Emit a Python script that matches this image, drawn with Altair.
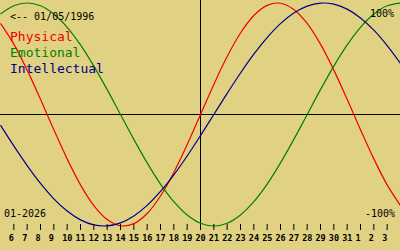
import altair as alt
import pandas as pd

# Days of January 2026 shown (5 .. 35 = Feb 4), values in percent
days = list(range(5, 36))
physical = [81.7, 63.1, 39.8, 13.6, -13.6, -39.8, -63.1, -81.7, -94.2, -99.8,
            -97.9, -88.8, -73.1, -52.0, -27.0, 0.0, 27.0, 52.0, 73.1, 88.8,
            97.9, 99.8, 94.2, 81.7, 63.1, 39.8, 13.6, -13.6, -39.8, -63.1, -81.7]
emotional = [90.1, 97.5, 100.0, 97.5, 90.1, 78.2, 62.4, 43.4, 22.3, 0.0,
             -22.3, -43.4, -62.4, -78.2, -90.1, -97.5, -100.0, -97.5, -90.1, -78.2,
             -62.4, -43.4, -22.3, 0.0, 22.3, 43.4, 62.4, 78.2, 90.1, 97.5, 100.0]
intellectual = [-9.5, -28.2, -45.8, -61.8, -75.6, -86.6, -94.5, -99.0, -99.9, -97.2,
                -91.0, -81.5, -69.0, -54.1, -37.2, -18.9, 0.0, 18.9, 37.2, 54.1,
                69.0, 81.5, 91.0, 97.2, 99.9, 99.0, 94.5, 86.6, 75.6, 61.8, 45.8]

series_names = ["Physical", "Emotional", "Intellectual"]
series_colors = ["#f00000", "#008000", "#000088"]

tick_days = list(range(6, 35))
tick_labels = [str(d) for d in range(6, 32)] + ["1", "2", "3"]
today = [20]

BG = "#e1d283"
FONT = "DejaVu Sans Mono"

rows = []
for name, vals in zip(series_names, [physical, emotional, intellectual]):
    for d, v in zip(days, vals):
        rows.append({"day": d, "value": v, "series": name})
df = pd.DataFrame(rows)
ticks_df = pd.DataFrame({"day": tick_days, "label": tick_labels})
today_df = pd.DataFrame({"day": today})
zero_df = pd.DataFrame({"value": [0]})

xscale = alt.Scale(domain=[5, 35], range=[0.5, 400.5], nice=False, zero=False)
yscale = alt.Scale(domain=[-100, 100], range=[226, 3], nice=False, zero=False)

lines = alt.Chart(df).mark_line(strokeWidth=1.2, interpolate="catmull-rom", clip=True).encode(
    x=alt.X("day:Q", scale=xscale, axis=None),
    y=alt.Y("value:Q", scale=yscale, axis=None),
    color=alt.Color("series:N", scale=alt.Scale(domain=series_names, range=series_colors), legend=None),
    detail="series:N",
)

hline = alt.Chart(zero_df).mark_rule(color="black", strokeWidth=1).encode(
    y=alt.Y("value:Q", scale=yscale, axis=None),
    x=alt.value(0), x2=alt.value(400),
)

vline = alt.Chart(today_df).mark_rule(color="black", strokeWidth=1).encode(
    x=alt.X("day:Q", scale=xscale, axis=None),
    y=alt.value(0), y2=alt.value(230),
)

tick_marks = alt.Chart(ticks_df).mark_rule(color="black", strokeWidth=1).encode(
    x=alt.X("day:Q", scale=xscale, axis=None),
    y=alt.value(224), y2=alt.value(230),
)

tick_text = alt.Chart(ticks_df).mark_text(
    font=FONT, fontSize=8.5, fontWeight="bold", align="left", baseline="alphabetic", dx=-5, color="black"
).encode(
    x=alt.X("day:Q", scale=xscale, axis=None),
    y=alt.value(241),
    text="label:N",
)

def label(txt, x, y, size, color, align="left"):
    return alt.Chart(zero_df).mark_text(
        font=FONT, fontSize=size, align=align, baseline="alphabetic", color=color
    ).encode(x=alt.value(x), y=alt.value(y), text=alt.value(txt))

texts = [
    label("<-- 01/05/1996", 10, 20, 10, "black"),
    label("Physical", 10, 41, 13, series_colors[0]),
    label("Emotional", 10, 57, 13, series_colors[1]),
    label("Intellectual", 10, 73, 13, series_colors[2]),
    label("100%", 394, 17, 10, "black", "right"),
    label("-100%", 395, 217, 10, "black", "right"),
    label("01-2026", 4, 217, 10, "black"),
]

chart = alt.layer(hline, vline, lines, tick_marks, tick_text, *texts).properties(
    width=400, height=250, background=BG, padding=0,
    autosize=alt.AutoSizeParams(type="none"),
).configure_view(stroke=None, fill=BG)

chart.save("out.html", embed_options={"renderer": "svg", "actions": False})
